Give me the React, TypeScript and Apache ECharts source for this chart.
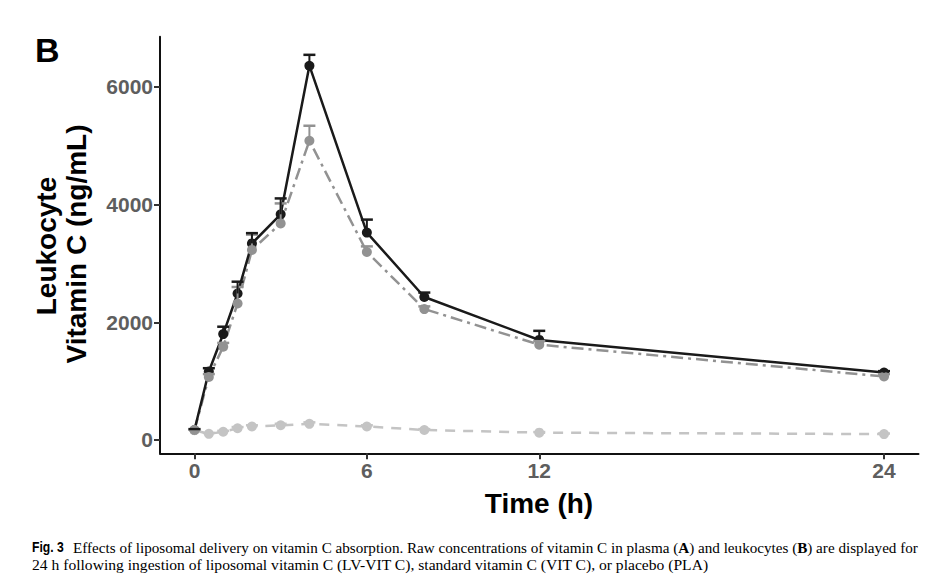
import React, { useEffect, useRef } from "react";
import * as echarts from "echarts";

// Time points (h)
const times = [0, 0.5, 1, 1.5, 2, 3, 4, 6, 8, 12, 24];
// Leukocyte vitamin C (ng/mL)
const lvVitC = [170, 1165, 1800, 2490, 3340, 3835, 6360, 3525, 2430, 1700, 1145];
const lvVitCErr = [15, 55, 125, 200, 175, 270, 185, 220, 75, 155, 25];
const vitC = [170, 1070, 1585, 2320, 3230, 3680, 5085, 3195, 2225, 1620, 1080];
const vitCErr = [10, 50, 65, 280, 260, 340, 255, 95, 45, 60, 40];
const placebo = [165, 105, 140, 200, 230, 250, 275, 230, 170, 125, 100];
const placeboErr = [10, 15, 15, 20, 20, 25, 25, 20, 15, 10, 10];
const xTicks = [0, 6, 12, 24];
const yTicks = [0, 2000, 4000, 6000];

const SANS = "'Liberation Sans', Arial, sans-serif";
const SERIF = "'Liberation Serif', 'Times New Roman', serif";

const C_LV = "#1a1a1a";
const C_VIT = "#929292";
const C_PLA = "#c4c4c4";

function pairs(vals: number[]) {
  return times.map((t, i) => [t, vals[i]]);
}
function errData(vals: number[], errs: number[]) {
  return times.map((t, i) => [t, vals[i], vals[i] + errs[i]]);
}

function errSeries(name: string, vals: number[], errs: number[], color: string) {
  return {
    name,
    type: "custom",
    z: 4,
    data: errData(vals, errs),
    renderItem: (params: any, api: any) => {
      const x = api.value(0);
      const lo = api.value(1);
      const hi = api.value(2);
      const p1 = api.coord([x, lo]);
      const p2 = api.coord([x, hi]);
      const hw = 6;
      return {
        type: "group",
        children: [
          {
            type: "line",
            shape: { x1: p1[0], y1: p1[1], x2: p2[0], y2: p2[1] },
            style: { stroke: color, lineWidth: 2 },
          },
          {
            type: "line",
            shape: { x1: p2[0] - hw, y1: p2[1], x2: p2[0] + hw, y2: p2[1] },
            style: { stroke: color, lineWidth: 2.5 },
          },
        ],
      };
    },
  };
}

function lineSeries(name: string, vals: number[], color: string, type: any) {
  return {
    name,
    type: "line",
    z: 2,
    data: pairs(vals),
    symbol: "none",
    showSymbol: false,
    lineStyle: { color, width: 2.5, type },
  };
}

function pointSeries(name: string, vals: number[], color: string) {
  return {
    name,
    type: "scatter",
    z: 3,
    data: pairs(vals),
    symbol: "circle",
    symbolSize: 10,
    itemStyle: { color, opacity: 1 },
  };
}

export default function App() {
  const ref = useRef<HTMLDivElement>(null);

  useEffect(() => {
    if (!ref.current) return;
    const chart = echarts.init(ref.current, undefined, { renderer: "svg" });
    const labelStyle = {
      color: "#5e5e5e",
      fontFamily: SANS,
      fontWeight: "bold",
      fontSize: 21,
      formatter: (v: number) => String(v),
    };
    chart.setOption({
      animation: false,
      backgroundColor: "#ffffff",
      grid: {
        left: 160,
        right: 33.5,
        top: 36.7,
        bottom: 123.7,
        containLabel: false,
        outerBoundsMode: "none",
      },
      xAxis: {
        type: "value",
        min: -1.2,
        max: 25.2,
        splitLine: { show: false },
        axisLine: { show: true, onZero: false, lineStyle: { color: "#111111", width: 2 } },
        axisTick: {
          show: true,
          length: 6,
          customValues: xTicks,
          lineStyle: { color: "#333333", width: 2 },
        },
        axisLabel: { ...labelStyle, customValues: xTicks, margin: 7 },
      },
      yAxis: {
        type: "value",
        min: -226,
        max: 6853,
        splitLine: { show: false },
        axisLine: { show: true, onZero: false, lineStyle: { color: "#111111", width: 2 } },
        axisTick: {
          show: true,
          length: 6,
          customValues: yTicks,
          lineStyle: { color: "#333333", width: 2 },
        },
        axisLabel: { ...labelStyle, customValues: yTicks, margin: 7 },
      },
      series: [
        lineSeries("PLA", placebo, C_PLA, [10, 8]),
        lineSeries("VIT C", vitC, C_VIT, [12, 5, 3, 5]),
        lineSeries("LV-VIT C", lvVitC, C_LV, "solid"),
        pointSeries("LV-VIT C", lvVitC, C_LV),
        pointSeries("PLA", placebo, C_PLA),
        pointSeries("VIT C", vitC, C_VIT),
        errSeries("PLA err", placebo, placeboErr, C_PLA),
        errSeries("VIT C err", vitC, vitCErr, C_VIT),
        errSeries("LV-VIT C err", lvVitC, lvVitCErr, C_LV),
      ],
      graphic: [
        {
          type: "text",
          x: 35,
          y: 50,
          style: {
            text: "B",
            font: `bold 34px ${SANS}`,
            fill: "#000000",
            textAlign: "left",
            textVerticalAlign: "middle",
          },
        },
        {
          type: "text",
          x: 46,
          y: 246,
          rotation: Math.PI / 2,
          style: {
            text: "Leukocyte",
            font: `bold 28px ${SANS}`,
            fill: "#000000",
            textAlign: "center",
            textVerticalAlign: "middle",
          },
        },
        {
          type: "text",
          x: 76,
          y: 244,
          rotation: Math.PI / 2,
          style: {
            text: "Vitamin C (ng/mL)",
            font: `bold 28px ${SANS}`,
            fill: "#000000",
            textAlign: "center",
            textVerticalAlign: "middle",
          },
        },
        {
          type: "text",
          x: 539,
          y: 503,
          style: {
            text: "Time (h)",
            font: `bold 28px ${SANS}`,
            fill: "#000000",
            textAlign: "center",
            textVerticalAlign: "middle",
          },
        },
        {
          type: "text",
          x: 32,
          y: 547,
          scaleX: 0.84,
          style: {
            text: "Fig. 3",
            font: `bold 14.5px ${SANS}`,
            fill: "#000000",
            textAlign: "left",
            textVerticalAlign: "middle",
          },
        },
        {
          type: "text",
          x: 73,
          y: 547,
          style: {
            rich: {
              n: { font: `15.15px ${SERIF}`, fill: "#000000" },
              b: { font: `bold 15.15px ${SERIF}`, fill: "#000000" },
            },
            text:
              "{n|Effects of liposomal delivery on vitamin C absorption. Raw concentrations of vitamin C in plasma (}{b|A}{n|) and leukocytes (}{b|B}{n|) are displayed for}",
            font: `15.15px ${SERIF}`,
            fill: "#000000",
            textAlign: "left",
            textVerticalAlign: "middle",
          },
        },
        {
          type: "text",
          x: 32,
          y: 564,
          style: {
            text:
              "24 h following ingestion of liposomal vitamin C (LV-VIT C), standard vitamin C (VIT C), or placebo (PLA)",
            font: `15.6px ${SERIF}`,
            fill: "#000000",
            textAlign: "left",
            textVerticalAlign: "middle",
          },
        },
      ],
    });
    return () => {
      chart.dispose();
    };
  }, []);

  return (
    <div
      ref={ref}
      style={{ position: "absolute", left: 0, top: 0, width: 952, height: 577 }}
    />
  );
}
